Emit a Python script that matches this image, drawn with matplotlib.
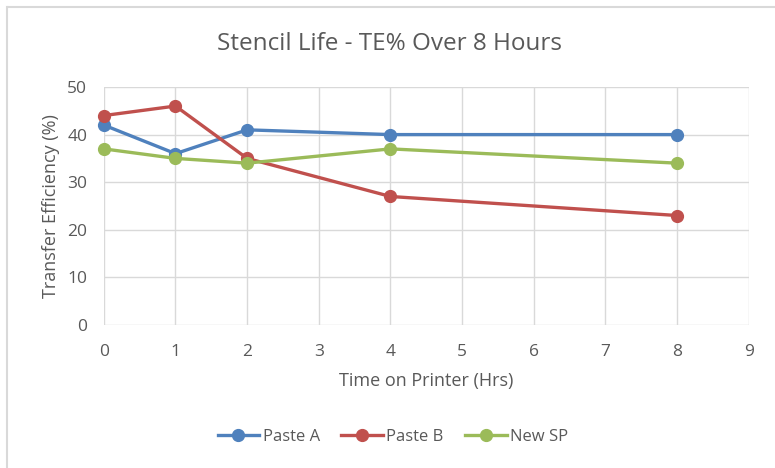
import matplotlib.pyplot as plt
from matplotlib.lines import Line2D

# data
hours = [0, 1, 2, 4, 8]
paste_a = [42, 36, 41, 40, 40]
paste_b = [44, 46, 35, 27, 23]
new_sp = [37, 35, 34, 37, 34]

plt.rcParams['font.family'] = ['Open Sans', 'DejaVu Sans']

text_col = '#595959'
grid_col = '#d9d9d9'

fig = plt.figure(figsize=(7.75, 4.68), dpi=100)
ax = fig.add_axes([0.134, 0.3056, 0.832, 0.5085])

for ys, col, name in [(paste_a, '#4f81bd', 'Paste A'),
                      (paste_b, '#c0504d', 'Paste B'),
                      (new_sp, '#9bbb59', 'New SP')]:
    ax.plot(hours, ys, color=col, lw=2.4, marker='o', ms=8.5, label=name, clip_on=False)

ax.set_xlim(0, 9)
ax.set_ylim(0, 50)
ax.set_xticks(range(0, 10))
ax.set_yticks(range(0, 51, 10))
ax.grid(True, color=grid_col, lw=1)
ax.set_axisbelow(True)
for s in ax.spines.values():
    s.set_visible(False)
ax.tick_params(length=0, colors=text_col, labelsize=12.5)
ax.tick_params(axis='x', pad=14)
ax.tick_params(axis='y', pad=12)

ax.set_xlabel('Time on Printer (Hrs)', color=text_col, fontsize=13, labelpad=8)
ax.set_ylabel('Transfer Efficiency (%)', color=text_col, fontsize=13, labelpad=5)
fig.text(0.503, 0.905, 'Stencil Life - TE% Over 8 Hours', ha='center', va='center',
         color=text_col, fontsize=17.5)

leg = fig.legend(loc='center', bbox_to_anchor=(0.507, 0.066), ncol=3, frameon=False,
                 fontsize=12, handlelength=2.5, handletextpad=0.2, columnspacing=1.3,
                 labelcolor=text_col)

# chart border (clipped at the right/bottom in the reference)
fig.add_artist(Line2D([7.5 / 775, 1.2], [1 - 7 / 468, 1 - 7 / 468], color=grid_col, lw=1.5))
fig.add_artist(Line2D([7 / 775, 7 / 775], [1 - 7 / 468, -0.1], color=grid_col, lw=1.5))

fig.savefig('out.png', dpi=100)
